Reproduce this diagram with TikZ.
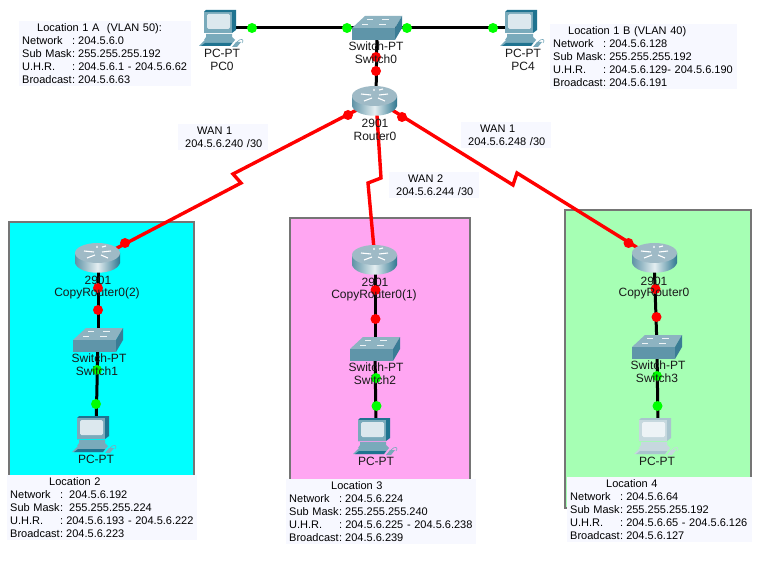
\documentclass[tikz,border=0pt]{standalone}
\usepackage{fontspec}
\setmainfont{Liberation Sans}
\definecolor{zcyan}{HTML}{00FFFF}
\definecolor{zpink}{HTML}{FFA6F2}
\definecolor{zgreen}{HTML}{A6FFB4}
\definecolor{zinfo}{HTML}{F7F8FF}
\definecolor{zborder}{HTML}{757575}
\definecolor{pcD}{HTML}{1F7390}
\definecolor{pcM}{HTML}{79AABB}
\definecolor{pcL}{HTML}{DCE8EE}
\definecolor{paleD}{HTML}{A9C4CE}
\definecolor{paleM}{HTML}{C6D8DE}
\definecolor{paleL}{HTML}{EDF3F6}
\definecolor{swFront}{HTML}{5F95A9}
\definecolor{swTop}{HTML}{8DB3C1}
\definecolor{swSide}{HTML}{3A7C95}
\definecolor{rtTop}{HTML}{9FBAC6}
\definecolor{rtLeft}{HTML}{5F93A6}
\definecolor{rtMid}{HTML}{E4EEF1}
\definecolor{rtRight}{HTML}{2F7790}
\newcommand{\il}[3][3pt]{\makebox[50pt][l]{#2}:\hspace*{#1}#3}
\tikzset{
  x=1pt,y=-1pt,
  areabox/.style={draw=zborder,line width=1.4pt},
  infobox/.style 2 args={fill=zinfo,anchor=north west,inner xsep=3pt,inner ysep=0pt,
    minimum width=#1,minimum height=#2,text width=#1-6pt,align=left,
    font=\fontsize{11pt}{13pt}\selectfont},
  devlabel/.style={inner sep=0pt,font=\fontsize{12pt}{13pt}\selectfont,text=black!90},
  lanlink/.style={draw=black,line width=3pt},
  wanlink/.style={draw=red,line width=3.4pt,line join=miter},
  gdot/.style={circle,fill=green,inner sep=0pt,minimum size=10pt},
  rdot/.style={circle,fill=red,inner sep=0pt,minimum size=10pt},
  pics/routericon/.style={code={
    \shade[left color=rtLeft,right color=rtRight,middle color=rtMid]
      (0,10) -- (0,20) .. controls (4,33) and (41,33) .. (45,20) -- (45,10) -- cycle;
    \fill[rtTop] (22.5,10) ellipse [x radius=22.5pt,y radius=10pt];
    \draw[white,line width=1.1pt] (9,8)--(19,9) (36,8)--(27,9) (12,15)--(20,12) (33,15)--(26,12) (22,3)--(22,5) (27,4)--(31,3);
  }},
  pics/switchicon/.style={code={
    \fill[swTop] (0,12) -- (13,0) -- (50,0) -- (43,12) -- cycle;
    \fill[swFront] (0,12) rectangle (43,24);
    \fill[swSide] (43,12) -- (50,0) -- (50,12) -- (43,24) -- cycle;
    \draw[white!85!swTop,line width=.8pt] (15,3)--(21,3) (30,3)--(37,3) (10,8)--(16,8) (27,8)--(34,8);
  }},
  pics/pcicon/.style args={#1/#2/#3}{code={
    \fill[#1] (5,2) -- (7,0) -- (37,0) -- (37,20) -- (33,23) -- (5,23) -- cycle;
    \fill[#2] (5,2) rectangle (33,23);
    \fill[#3,rounded corners=1.5pt] (8,4) rectangle (31,19);
    \fill[#2] (7,24) -- (33,24) -- (33,27) -- (36,30) -- (5,30) -- (7,27) -- cycle;
    \fill[#2] (0,36) -- (6,30) -- (36,30) -- (31,36) -- cycle;
    \fill[#1] (6,33) -- (33,33) -- (31,36) -- (2,36) -- cycle;
    \fill[#2] (33,37) -- (37,32) -- (42,32) -- (38,37) -- cycle;
    \draw[#2,line width=.6pt] (38,32) .. controls (42,27) and (46,30) .. (43,33);
  }},
}
\begin{document}
\begin{tikzpicture}
\useasboundingbox (0,0) rectangle (758,564);
\fill[white] (0,0) rectangle (758,564);
% coloured areas
\draw[areabox,fill=zcyan] (9,222) rectangle (194,476);
\draw[areabox,fill=zpink] (290,218) rectangle (470,480);
\draw[areabox,fill=zgreen] (565,210) rectangle (751,508);
% device anchors
\coordinate (pc0) at (225,28);
\coordinate (sw0) at (377,28);
\coordinate (pc4) at (520,28);
\coordinate (r0) at (376,100);
\coordinate (r2) at (98,258);
\coordinate (sw1) at (98,340);
\coordinate (pc2) at (96,430);
\coordinate (r3) at (375,260);
\coordinate (sw2) at (375,349);
\coordinate (pc3) at (376,430);
\coordinate (r4) at (654,258);
\coordinate (sw3) at (657,347);
\coordinate (pc5) at (658,430);
% WAN bends
\coordinate (la) at (241,183);
\coordinate (lb) at (233,174);
\coordinate (ma) at (381,178);
\coordinate (mb) at (368,183);
\coordinate (ra) at (513,185);
\coordinate (rb) at (517,173);
% links
\draw[lanlink] (pc0) -- (sw0);
\draw[lanlink] (sw0) -- (pc4);
\draw[lanlink] (sw0) -- (r0);
\draw[lanlink] (r2) -- (sw1);
\draw[lanlink] (sw1) -- (pc2);
\draw[lanlink] (r3) -- (sw2);
\draw[lanlink] (sw2) -- (pc3);
\draw[lanlink] (r4) -- (sw3);
\draw[lanlink] (sw3) -- (pc5);
\draw[wanlink] (r0) -- (lb) -- (la) -- (r2);
\draw[wanlink] (r0) -- (ma) -- (mb) -- (r3);
\draw[wanlink] (r0) -- (ra) -- (rb) -- (r4);
% port dots
\node[gdot] (g1) at (252,28) {};
\node[gdot] (g2) at (347,28) {};
\node[gdot] (g3) at (407,28) {};
\node[gdot] (g4) at (493,28) {};
\node[rdot] (t1) at (376,57) {};
\node[rdot] (t2) at (376,71) {};
\node[rdot] (t3) at (348,115) {};
\node[rdot] (t4) at (402,117) {};
\node[rdot] (t5) at (125,243) {};
\node[rdot] (t6) at (98,288) {};
\node[rdot] (t7) at (98,310) {};
\node[gdot] (g5) at (97,370) {};
\node[gdot] (g6) at (96,404) {};
\node[rdot] (t8) at (375.5,290) {};
\node[rdot] (t9) at (375.5,319) {};
\node[gdot] (g7) at (376,378) {};
\node[gdot] (g8) at (376.5,406) {};
\node[rdot] (t10) at (628.5,243) {};
\node[rdot] (t11) at (655.5,289) {};
\node[rdot] (t12) at (656.5,317) {};
\node[gdot] (g9) at (657,376) {};
\node[gdot] (g10) at (657.5,406) {};
% icons
\pic at (199,10) {pcicon={pcD/pcM/pcL}};
\pic at (500,10) {pcicon={pcD/pcM/pcL}};
\pic at (72,416) {pcicon={pcD/pcM/pcL}};
\pic at (353,418) {pcicon={pcD/pcM/pcL}};
\pic at (634,418) {pcicon={paleD/paleM/paleL}};
\pic at (352,16) {switchicon};
\pic at (73,328) {switchicon};
\pic at (350,337) {switchicon};
\pic at (632,335) {switchicon};
\pic at (352,86) {routericon};
\pic at (75,243) {routericon};
\pic at (352,245) {routericon};
\pic at (632,243) {routericon};
% device labels
\node[devlabel] (lpc0a) at (222,53) {PC-PT};
\node[devlabel] (lpc0b) at (222,66) {PC0};
\node[devlabel] (lpc4a) at (523,53) {PC-PT};
\node[devlabel] (lpc4b) at (523,66) {PC4};
\node[devlabel] (ls0a) at (376,46) {Switch-PT};
\node[devlabel] (ls0b) at (376,59) {Switch0};
\node[devlabel] (lr0a) at (375,123) {2901};
\node[devlabel] (lr0b) at (375,136) {Router0};
\node[devlabel] (lr2a) at (98,280) {2901};
\node[devlabel] (lr2b) at (97,293) {CopyRouter0(2)};
\node[devlabel] (ls1a) at (99,358) {Switch-PT};
\node[devlabel] (ls1b) at (97,371) {Switch1};
\node[devlabel] (lp2) at (96,459) {PC-PT};
\node[devlabel] (lr3a) at (375,282) {2901};
\node[devlabel] (lr3b) at (374,295) {CopyRouter0(1)};
\node[devlabel] (ls2a) at (376,367) {Switch-PT};
\node[devlabel] (ls2b) at (375,380) {Switch2};
\node[devlabel] (lp3) at (376,461) {PC-PT};
\node[devlabel] (lr4a) at (654,281) {2901};
\node[devlabel] (lr4b) at (654,294) {CopyRouter0};
\node[devlabel] (ls3a) at (658,365) {Switch-PT};
\node[devlabel] (ls3b) at (657,378) {Switch3};
\node[devlabel] (lp5) at (657,461) {PC-PT};
% info boxes
\node[infobox={172pt}{65pt}] (i1a) at (19,21) {\hspace*{15pt}Location 1 A\ \ (VLAN 50):\\
\il{Network}{204.5.6.0}\\ \il{Sub Mask}{255.255.255.192}\\ \il{U.H.R.}{204.5.6.1 - 204.5.6.62}\\ \il{Broadcast}{204.5.6.63}};
\node[infobox={187pt}{65pt}] (i1b) at (550,24) {\hspace*{15pt}Location 1 B (VLAN 40)\\
\il{Network}{204.5.6.128}\\ \il{Sub Mask}{255.255.255.192}\\ \il{U.H.R.}{204.5.6.129- 204.5.6.190}\\ \il{Broadcast}{204.5.6.191}};
\node[infobox={190pt}{65pt}] (i2) at (7,475) {\hspace*{39pt}Location 2\\
\il[6pt]{Network}{204.5.6.192}\\ \il[6pt]{Sub Mask}{255.255.255.224}\\ \il{U.H.R.}{204.5.6.193 - 204.5.6.222}\\ \il{Broadcast}{204.5.6.223}};
\node[infobox={190pt}{65pt}] (i3) at (286,479) {\hspace*{42pt}Location 3\\
\il{Network}{204.5.6.224}\\ \il{Sub Mask}{255.255.255.240}\\ \il{U.H.R.}{204.5.6.225 - 204.5.6.238}\\ \il{Broadcast}{204.5.6.239}};
\node[infobox={185pt}{65pt}] (i4) at (567,477) {\hspace*{36pt}Location 4\\
\il{Network}{204.5.6.64}\\ \il{Sub Mask}{255.255.255.192}\\ \il{U.H.R.}{204.5.6.65 - 204.5.6.126}\\ \il{Broadcast}{204.5.6.127}};
\node[infobox={90pt}{26pt}] (w1) at (178,124) {\hspace*{16pt}WAN 1\\ \hspace*{4pt}204.5.6.240 /30};
\node[infobox={90pt}{26pt}] (w2) at (389,172) {\hspace*{16pt}WAN 2\\ \hspace*{4pt}204.5.6.244 /30};
\node[infobox={90pt}{26pt}] (w3) at (461,122) {\hspace*{16pt}WAN 1\\ \hspace*{4pt}204.5.6.248 /30};
\end{tikzpicture}
\end{document}
